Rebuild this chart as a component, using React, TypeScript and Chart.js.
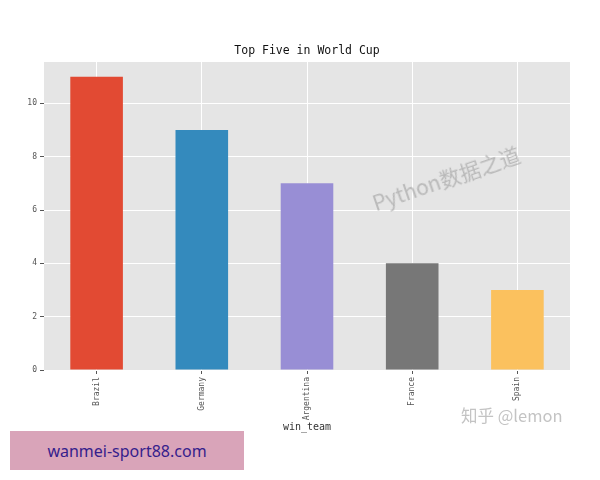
import React, { useEffect, useRef } from "react";
import { Chart, registerables } from "chart.js";

Chart.register(...registerables);

const categories = ["Brazil", "Germany", "Argentina", "France", "Spain"];
const wins = [11, 9, 7, 4, 3];
const barColors = ["#E24A33", "#348ABD", "#988ED5", "#777777", "#FBC15E"];
const yTicks = [0, 2, 4, 6, 8, 10];
const chartTitle = "Top Five in World Cup";
const xLabel = "win_team";

const MONO = "'DejaVu Sans Mono', monospace";

const bgPlugin = {
  id: "ggbg",
  beforeDraw(chart: any) {
    const { ctx, chartArea } = chart;
    ctx.save();
    ctx.fillStyle = "#E5E5E5";
    ctx.fillRect(chartArea.left, chartArea.top, chartArea.right - chartArea.left, chartArea.bottom - chartArea.top);
    ctx.restore();
  },
  afterDraw(chart: any) {
    const { ctx, chartArea } = chart;
    ctx.save();
    ctx.fillStyle = "#111";
    ctx.font = `11.5px ${MONO}`;
    ctx.textAlign = "center";
    ctx.textBaseline = "middle";
    ctx.fillText(chartTitle, (chartArea.left + chartArea.right) / 2, 51);
    ctx.restore();
  },
};

export default function App() {
  const ref = useRef<HTMLCanvasElement | null>(null);
  useEffect(() => {
    if (!ref.current) return;
    const chart = new Chart(ref.current, {
      type: "bar",
      data: {
        labels: categories,
        datasets: [
          {
            data: wins,
            backgroundColor: barColors,
            borderWidth: 0,
            barPercentage: 0.5,
            categoryPercentage: 1,
          },
        ],
      },
      options: {
        responsive: false,
        animation: false,
        layout: { padding: { left: 0, right: 30, top: 62, bottom: 45 } },
        plugins: { legend: { display: false }, tooltip: { enabled: false }, title: { display: false } },
        scales: {
          x: {
            grid: { color: "#FFFFFF", tickColor: "#555555", tickLength: 4, offset: false, lineWidth: 1 },
            border: { display: false },
            ticks: { font: { family: MONO, size: 8 }, color: "#555555", maxRotation: 90, minRotation: 90, padding: 3 },
            title: { display: true, text: xLabel, font: { family: MONO, size: 10 }, color: "#333", padding: { top: 0, bottom: 2 } },
            afterFit(scale: any) {
              scale.height = 65;
            },
          },
          y: {
            min: 0,
            max: 11.55,
            grid: { color: "#FFFFFF", tickColor: "#555555", tickLength: 4, lineWidth: 1 },
            border: { display: false },
            afterBuildTicks(scale: any) {
              scale.ticks = yTicks.map((v) => ({ value: v }));
            },
            ticks: { font: { family: MONO, size: 8 }, color: "#555555", padding: 3 },
            afterFit(scale: any) {
              scale.width = 44;
            },
          },
        },
      },
      plugins: [bgPlugin],
    });
    return () => chart.destroy();
  }, []);

  return (
    <div style={{ position: "fixed", left: 0, top: 0, width: 600, height: 480, background: "#fff", overflow: "hidden" }}>
      <canvas ref={ref} width={600} height={480} style={{ position: "absolute", left: 0, top: 0, width: 600, height: 480 }} />
      <div
        style={{
          position: "absolute",
          left: 373,
          top: 190,
          transform: "rotate(-19deg)",
          transformOrigin: "left center",
          color: "rgba(150,150,150,0.55)",
          fontFamily: "'Noto Sans CJK SC', 'Noto Sans', sans-serif",
          fontSize: 21,
          whiteSpace: "nowrap",
          lineHeight: "26px",
        }}
      >
        Python数据之道
      </div>
      <div
        style={{
          position: "absolute",
          left: 461,
          top: 404,
          color: "rgba(170,170,170,0.7)",
          fontFamily: "'Noto Sans CJK SC', 'Noto Sans', sans-serif",
          fontSize: 16.5,
          whiteSpace: "nowrap",
          lineHeight: "22px",
        }}
      >
        知乎 @lemon
      </div>
      <div
        style={{
          position: "absolute",
          left: 10,
          top: 431,
          width: 234,
          height: 39,
          background: "#D9A4B9",
          color: "#35208C",
          fontFamily: "'Noto Sans', sans-serif",
          fontSize: 16,
          display: "flex",
          alignItems: "center",
          justifyContent: "center",
        }}
      >
        wanmei-sport88.com
      </div>
    </div>
  );
}
